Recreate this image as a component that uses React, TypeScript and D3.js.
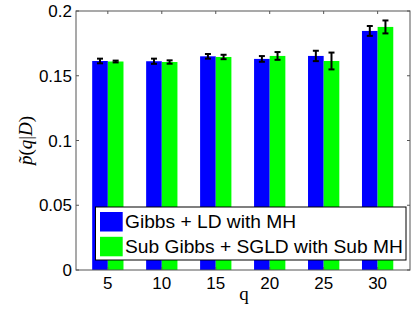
import React from 'react';
import * as d3 from 'd3';

const qValues = [5, 10, 15, 20, 25, 30];
const gibbsMean = [0.1614, 0.1612, 0.1650, 0.1630, 0.1653, 0.1846];
const gibbsErr = [0.0018, 0.0020, 0.0018, 0.0022, 0.0040, 0.0038];
const subMean = [0.1610, 0.1606, 0.1645, 0.1653, 0.1614, 0.1877];
const subErr = [0.0007, 0.0013, 0.0017, 0.0030, 0.0065, 0.0050];
const yTicks = [0, 0.05, 0.1, 0.15, 0.2];
const seriesNames = ['Gibbs + LD with MH', 'Sub Gibbs + SGLD with Sub MH'];
const seriesColors = ['#0000ff', '#00ff00'];

const W = 415;
const H = 312;
const left = 76;
const right = 410;
const top = 11;
const bottom = 270;

const App = () => {
  const x = d3.scaleLinear().domain([2.05, 33]).range([left, right]);
  const y = d3.scaleLinear().domain([0, 0.2]).range([bottom, top]);
  const barW = 1.45;
  const axisColor = '#555';
  const font = '"Liberation Sans", Arial, sans-serif';

  const series = [
    { mean: gibbsMean, err: gibbsErr, offset: -barW / 2 },
    { mean: subMean, err: subErr, offset: barW / 2 },
  ];

  return (
    <svg width={W} height={H} style={{ position: 'absolute', left: 0, top: 0 }}>
      <rect x={0} y={0} width={W} height={H} fill="#fff" />
      {series.map((s, si) =>
        qValues.map((q, i) => (
          <rect
            key={`b${si}-${i}`}
            x={x(q + s.offset - barW / 2)}
            y={y(s.mean[i])}
            width={x(barW) - x(0)}
            height={bottom - y(s.mean[i])}
            fill={seriesColors[si]}
          />
        ))
      )}
      {series.map((s, si) =>
        qValues.map((q, i) => {
          const cx = x(q + s.offset);
          const y1 = y(s.mean[i] + s.err[i]);
          const y2 = y(s.mean[i] - s.err[i]);
          return (
            <g key={`e${si}-${i}`} stroke="#000" strokeWidth={2}>
              <line x1={cx} x2={cx} y1={y1} y2={y2} />
              <line x1={cx - 3} x2={cx + 3} y1={y1} y2={y1} />
              <line x1={cx - 3} x2={cx + 3} y1={y2} y2={y2} />
            </g>
          );
        })
      )}
      {/* axes box */}
      <rect x={left} y={top} width={right - left} height={bottom - top} fill="none" stroke={axisColor} strokeWidth={1} />
      {yTicks.map((t) => (
        <g key={`yt${t}`}>
          <line x1={left} x2={left + 3} y1={y(t)} y2={y(t)} stroke={axisColor} />
          <line x1={right} x2={right - 3} y1={y(t)} y2={y(t)} stroke={axisColor} />
          <text x={left - 4} y={y(t) + 6} textAnchor="end" fontFamily={font} fontSize={17} fill="#000">
            {String(t)}
          </text>
        </g>
      ))}
      {qValues.map((q) => (
        <g key={`xt${q}`}>
          <line x1={x(q)} x2={x(q)} y1={top} y2={top + 3} stroke={axisColor} />
          <line x1={x(q)} x2={x(q)} y1={bottom} y2={bottom - 3} stroke={axisColor} />
          <text x={x(q)} y={bottom + 18.5} textAnchor="middle" fontFamily={font} fontSize={17} fill="#000">
            {q}
          </text>
        </g>
      ))}
      <text x={(left + right) / 2 + 1} y={300} textAnchor="middle" fontFamily='"Liberation Serif", "DejaVu Serif", serif' fontSize={19} fill="#000">
        q
      </text>
      <text
        transform={`translate(32, ${(top + bottom) / 2}) rotate(-90)`}
        textAnchor="middle"
        fontFamily='"Liberation Serif", "DejaVu Serif", serif'
        fontSize={19}
        fill="#000"
      >
        <tspan fontStyle="italic">{'p\u0303'}</tspan>
        <tspan>(</tspan>
        <tspan fontStyle="italic">q</tspan>
        <tspan>|</tspan>
        <tspan fontStyle="italic">D</tspan>
        <tspan>)</tspan>
      </text>
      {/* legend */}
      <g>
        <rect x={95.5} y={207} width={310.5} height={53} fill="#fff" stroke="#000" strokeWidth={1} />
        {seriesNames.map((name, i) => (
          <g key={name}>
            <rect x={100} y={212 + i * 24.8} width={22.7} height={19.5} fill={seriesColors[i]} />
            <text x={125} y={228 + i * 25} fontFamily={font} fontSize={19.2} fill="#000">
              {name}
            </text>
          </g>
        ))}
      </g>
    </svg>
  );
};

export default App;
